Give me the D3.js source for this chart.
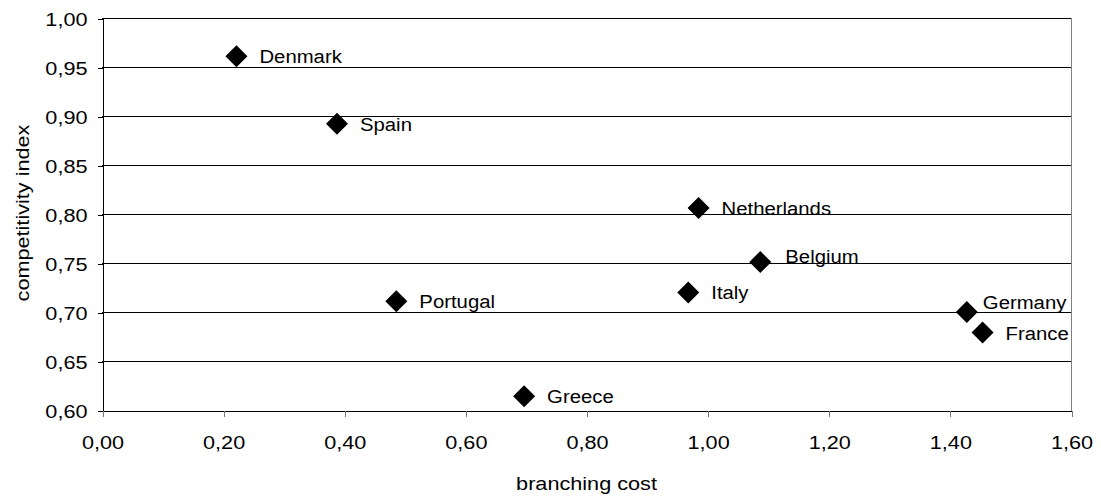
<!DOCTYPE html>
<html>
<head>
<meta charset="utf-8">
<script src="https://cdn.jsdelivr.net/npm/d3@7"></script>
<style>
  html, body { margin: 0; padding: 0; background: #fff; }
  svg text { font-family: "Liberation Sans", Arial, sans-serif; fill: #000; }
</style>
</head>
<body>
<svg id="chart" width="1101" height="497"></svg>
<script>
// ---- data ----
const countries = ["Denmark", "Spain", "Portugal", "Greece", "Netherlands", "Belgium", "Italy", "Germany", "France"];
const branchingCost = [0.222, 0.388, 0.486, 0.697, 0.985, 1.087, 0.968, 1.428, 1.454];
const competitivity = [0.961, 0.892, 0.711, 0.614, 0.806, 0.751, 0.720, 0.700, 0.679];
const xTicks = [0, 0.2, 0.4, 0.6, 0.8, 1.0, 1.2, 1.4, 1.6];
const yTicks = [0.60, 0.65, 0.70, 0.75, 0.80, 0.85, 0.90, 0.95, 1.00];
const xTitle = "branching cost";
const yTitle = "competitivity index";

// ---- layout ----
const pLeft = 102, pRight = 1071, pTop = 18, pBottom = 410;
const fontSize = 19, axisStretch = 1.14, labelStretch = 1.07;
// label nudges (layout only)
const labelShift = { Belgium: [25, 1], Germany: [16, -3] };
const defaultShift = [23, 7];

const svg = d3.select("#chart");
const x = d3.scaleLinear().domain([0, 1.6]).range([pLeft, pRight]);
const y = d3.scaleLinear().domain([0.6, 1.0]).range([pBottom, pTop]);
const fmt = v => d3.format(".2f")(v).replace(".", ",");

// gridlines
svg.append("g").selectAll("line").data(yTicks.filter(v => v > 0.6)).join("line")
  .attr("x1", pLeft).attr("x2", pRight)
  .attr("y1", d => Math.round(y(d)) + 0.5).attr("y2", d => Math.round(y(d)) + 0.5)
  .attr("stroke", "#000").attr("stroke-width", 1).attr("shape-rendering", "crispEdges");

// right border
svg.append("line").attr("x1", pRight + 0.5).attr("x2", pRight + 0.5)
  .attr("y1", pTop).attr("y2", pBottom + 1)
  .attr("stroke", "#808080").attr("stroke-width", 1).attr("shape-rendering", "crispEdges");

// y axis
const yAxis = svg.append("g").attr("transform", `translate(${pLeft + 0.5},0.5)`)
  .call(d3.axisLeft(y).tickValues(yTicks).tickFormat(fmt).tickSize(5).tickSizeOuter(0));
yAxis.select(".domain").attr("stroke", "#000").attr("shape-rendering", "crispEdges");
yAxis.selectAll(".tick line").attr("stroke", "#000").attr("shape-rendering", "crispEdges");
yAxis.selectAll(".tick text")
  .attr("x", null).attr("dy", null)
  .attr("transform", `translate(-15,7) scale(${axisStretch},1)`)
  .attr("text-anchor", "end")
  .style("font-size", fontSize + "px").style("font-family", "Liberation Sans, Arial, sans-serif");

// x axis
const xAxis = svg.append("g").attr("transform", `translate(0.5,${pBottom + 0.5})`)
  .call(d3.axisBottom(x).tickValues(xTicks).tickFormat(fmt).tickSize(6).tickSizeOuter(0));
xAxis.select(".domain").attr("stroke", "#000").attr("shape-rendering", "crispEdges");
xAxis.selectAll(".tick line").attr("stroke", "#777").attr("shape-rendering", "crispEdges");
xAxis.selectAll(".tick text")
  .attr("y", null).attr("dy", null)
  .attr("transform", `translate(0,38.5) scale(${axisStretch},1)`)
  .attr("text-anchor", "middle")
  .style("font-size", fontSize + "px").style("font-family", "Liberation Sans, Arial, sans-serif");

// axis titles
svg.append("text")
  .attr("transform", `translate(${(pLeft + pRight) / 2},490) scale(${axisStretch},1)`)
  .attr("text-anchor", "middle").style("font-size", fontSize + "px").text(xTitle);
svg.append("text")
  .attr("transform", `translate(29,${(pTop + pBottom) / 2 - 1}) rotate(-90) scale(${axisStretch},1)`)
  .attr("text-anchor", "middle").style("font-size", fontSize + "px").text(yTitle);

// points
const pts = countries.map((c, i) => ({ name: c, bx: branchingCost[i], cy: competitivity[i] }));
const diamond = d3.symbol(d3.symbolSquare, 242);
svg.append("g").selectAll("path").data(pts).join("path")
  .attr("d", diamond)
  .attr("transform", d => `translate(${x(d.bx)},${y(d.cy)}) rotate(45)`)
  .attr("fill", "#000");

// labels
svg.append("g").selectAll("text").data(pts).join("text")
  .attr("transform", d => {
    const s = labelShift[d.name] || defaultShift;
    return `translate(${x(d.bx) + s[0]},${y(d.cy) + s[1]}) scale(${labelStretch},1)`;
  })
  .style("font-size", fontSize + "px")
  .text(d => d.name);
</script>
</body>
</html>
